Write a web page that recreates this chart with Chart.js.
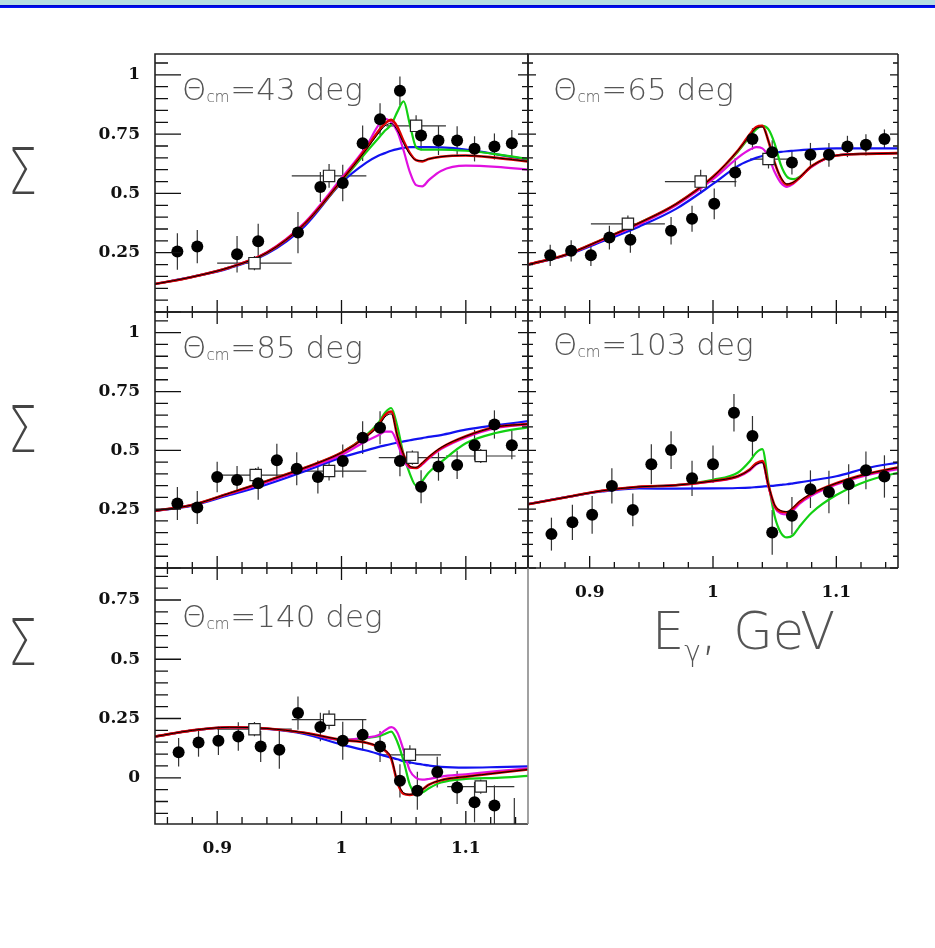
<!DOCTYPE html>
<html>
<head>
<meta charset="utf-8">
<script src="https://cdn.jsdelivr.net/npm/chart.js@4.4.1/dist/chart.umd.min.js"></script>
<style>
  body { margin: 0; background: #fff; }
  #page { position: relative; width: 935px; height: 948px; overflow: hidden; background: #fff; }
  #banner { position: absolute; left: 0; top: 0; width: 935px; height: 8px;
            background: linear-gradient(#b6dee2 0, #b6dee2 5px, #0000c8 5px, #0018ff 8px); }
  canvas { position: absolute; }
  .sigma { position: absolute; left: 8px; font: 200 64px "DejaVu Sans"; line-height: 64px;
           color: #444; transform: scaleX(0.72); transform-origin: left top; }
  #ebeam { position: absolute; left: 652px; top: 606px; font: 200 51px "DejaVu Sans";
           line-height: 51px; color: #555; white-space: nowrap; }
  #ebeam .sub { font-size: 28px; vertical-align: -12px; line-height: 0; }
</style>
</head>
<body>
<div id="page">
  <div id="banner"></div>
  <canvas id="c43"></canvas>
  <canvas id="c65"></canvas>
  <canvas id="c85"></canvas>
  <canvas id="c103"></canvas>
  <canvas id="c140"></canvas>
  <div class="sigma" style="top:140px">Σ</div>
  <div class="sigma" style="top:398px">Σ</div>
  <div class="sigma" style="top:611px">Σ</div>
  <div id="ebeam">E<span class="sub">γ</span>, GeV</div>
</div>
<script>
// photon energy grid for the model curves (GeV)
const curveE = [0.85, 0.88, 0.91, 0.94, 0.97, 1.0, 1.02, 1.03, 1.035, 1.04, 1.045, 1.05, 1.055, 1.06, 1.065, 1.07, 1.08, 1.1, 1.125, 1.15];

const angles = ['43', '65', '85', '103', '140'];

const xTickValues = [0.9, 1, 1.1];
const xTickText = ['0.9', '1', '1.1'];
const yTickValues = [0.25, 0.5, 0.75, 1];
const yTickText = ['0.25', '0.5', '0.75', '1'];
const yTickValues140 = [0, 0.25, 0.5, 0.75];
const yTickText140 = ['0', '0.25', '0.5', '0.75'];

// theta_cm = 43 deg
const e43 = [0.868, 0.884, 0.916, 0.933, 0.965, 0.983, 1.001, 1.017, 1.031, 1.047, 1.064, 1.078, 1.093, 1.107, 1.123, 1.137];
const sig43 = [0.255, 0.276, 0.244, 0.298, 0.335, 0.527, 0.544, 0.712, 0.813, 0.933, 0.744, 0.723, 0.723, 0.688, 0.698, 0.712];
const dsig43 = [0.077, 0.07, 0.077, 0.074, 0.087, 0.063, 0.077, 0.075, 0.067, 0.06, 0.063, 0.061, 0.06, 0.053, 0.055, 0.056];
const e43o = [0.93, 0.99, 1.06];
const sig43o = [0.206, 0.574, 0.785];
const de43o = [0.03, 0.03, 0.024];
const dsig43o = [0.03, 0.05, 0.045];
const blue43 = [0.118, 0.148, 0.185, 0.245, 0.36, 0.545, 0.63, 0.66, 0.67, 0.68, 0.687, 0.692, 0.695, 0.695, 0.695, 0.695, 0.694, 0.685, 0.665, 0.642];
const green43 = [0.118, 0.148, 0.188, 0.25, 0.37, 0.55, 0.675, 0.735, 0.765, 0.79, 0.845, 0.888, 0.79, 0.695, 0.685, 0.685, 0.685, 0.68, 0.665, 0.645];
const magenta43 = [0.118, 0.148, 0.188, 0.252, 0.375, 0.565, 0.70, 0.79, 0.815, 0.80, 0.76, 0.68, 0.59, 0.535, 0.53, 0.555, 0.595, 0.617, 0.612, 0.60];
const red43 = [0.118, 0.148, 0.188, 0.25, 0.37, 0.555, 0.69, 0.765, 0.795, 0.81, 0.78, 0.72, 0.67, 0.64, 0.635, 0.645, 0.655, 0.66, 0.65, 0.635];
const black43 = [0.118, 0.148, 0.188, 0.25, 0.37, 0.555, 0.685, 0.755, 0.785, 0.795, 0.765, 0.71, 0.665, 0.64, 0.638, 0.645, 0.655, 0.66, 0.65, 0.635];

// theta_cm = 65 deg
const e65 = [0.868, 0.885, 0.901, 0.916, 0.933, 0.966, 0.983, 1.001, 1.018, 1.032, 1.048, 1.064, 1.079, 1.094, 1.109, 1.124, 1.139];
const sig65 = [0.239, 0.258, 0.239, 0.314, 0.305, 0.343, 0.393, 0.456, 0.588, 0.730, 0.674, 0.630, 0.663, 0.663, 0.698, 0.705, 0.730];
const dsig65 = [0.045, 0.045, 0.045, 0.05, 0.055, 0.058, 0.055, 0.065, 0.06, 0.045, 0.05, 0.05, 0.05, 0.05, 0.045, 0.045, 0.04];
const e65o = [0.931, 0.99, 1.045];
const sig65o = [0.372, 0.55, 0.645];
const de65o = [0.03, 0.029, 0.015];
const dsig65o = [0.035, 0.05, 0.04];
const blue65 = [0.2, 0.237, 0.297, 0.36, 0.435, 0.54, 0.615, 0.64, 0.65, 0.658, 0.665, 0.67, 0.675, 0.678, 0.68, 0.682, 0.686, 0.69, 0.69, 0.69];
const green65 = [0.2, 0.24, 0.305, 0.375, 0.455, 0.57, 0.675, 0.74, 0.77, 0.785, 0.77, 0.71, 0.62, 0.57, 0.56, 0.57, 0.615, 0.66, 0.667, 0.67];
const magenta65 = [0.2, 0.24, 0.303, 0.37, 0.45, 0.56, 0.65, 0.685, 0.695, 0.69, 0.655, 0.59, 0.545, 0.528, 0.54, 0.565, 0.612, 0.66, 0.667, 0.67];
const red65 = [0.2, 0.24, 0.305, 0.375, 0.455, 0.57, 0.68, 0.75, 0.78, 0.785, 0.72, 0.63, 0.565, 0.537, 0.545, 0.565, 0.615, 0.66, 0.667, 0.67];
const black65 = [0.2, 0.24, 0.305, 0.375, 0.455, 0.57, 0.68, 0.745, 0.775, 0.78, 0.72, 0.63, 0.568, 0.54, 0.547, 0.567, 0.615, 0.66, 0.667, 0.67];

// theta_cm = 85 deg
const e85 = [0.868, 0.884, 0.900, 0.916, 0.933, 0.948, 0.964, 0.981, 1.001, 1.017, 1.031, 1.047, 1.064, 1.078, 1.093, 1.107, 1.123, 1.137];
const sig85 = [0.274, 0.257, 0.387, 0.374, 0.360, 0.458, 0.422, 0.387, 0.455, 0.554, 0.596, 0.455, 0.345, 0.431, 0.438, 0.522, 0.610, 0.522];
const dsig85 = [0.07, 0.07, 0.065, 0.06, 0.07, 0.07, 0.07, 0.07, 0.07, 0.07, 0.07, 0.065, 0.07, 0.06, 0.06, 0.065, 0.06, 0.06];
const e85o = [0.931, 0.99, 1.057, 1.112];
const sig85o = [0.395, 0.412, 0.469, 0.476];
const de85o = [0.03, 0.03, 0.027, 0.028];
const dsig85o = [0.03, 0.04, 0.03, 0.03];
const blue85 = [0.243, 0.265, 0.31, 0.355, 0.41, 0.47, 0.5, 0.515, 0.521, 0.527, 0.533, 0.538, 0.543, 0.548, 0.552, 0.557, 0.565, 0.588, 0.607, 0.624];
const green85 = [0.243, 0.268, 0.318, 0.37, 0.425, 0.49, 0.565, 0.62, 0.66, 0.68, 0.60, 0.48, 0.40, 0.35, 0.37, 0.405, 0.45, 0.53, 0.575, 0.598];
const magenta85 = [0.243, 0.268, 0.316, 0.365, 0.42, 0.48, 0.54, 0.565, 0.58, 0.58, 0.53, 0.46, 0.425, 0.425, 0.44, 0.465, 0.505, 0.555, 0.595, 0.61];
const red85 = [0.243, 0.268, 0.318, 0.37, 0.425, 0.49, 0.56, 0.61, 0.65, 0.665, 0.56, 0.48, 0.43, 0.425, 0.445, 0.47, 0.51, 0.56, 0.60, 0.612];
const black85 = [0.243, 0.268, 0.318, 0.37, 0.425, 0.49, 0.558, 0.605, 0.642, 0.655, 0.56, 0.482, 0.433, 0.428, 0.447, 0.472, 0.512, 0.56, 0.60, 0.612];

// theta_cm = 103 deg
const e103 = [0.869, 0.886, 0.902, 0.918, 0.935, 0.950, 0.966, 0.983, 1.000, 1.017, 1.032, 1.048, 1.064, 1.079, 1.094, 1.110, 1.124, 1.139];
const sig103 = [0.144, 0.194, 0.226, 0.349, 0.247, 0.441, 0.501, 0.381, 0.441, 0.660, 0.561, 0.151, 0.222, 0.335, 0.323, 0.356, 0.415, 0.389];
const dsig103 = [0.07, 0.075, 0.08, 0.075, 0.07, 0.085, 0.08, 0.075, 0.08, 0.08, 0.085, 0.095, 0.08, 0.08, 0.09, 0.085, 0.08, 0.09];
const blue103 = [0.271, 0.3, 0.325, 0.338, 0.337, 0.338, 0.34, 0.342, 0.344, 0.346, 0.348, 0.35, 0.353, 0.356, 0.36, 0.364, 0.372, 0.39, 0.425, 0.448];
const green103 = [0.271, 0.3, 0.328, 0.345, 0.352, 0.375, 0.405, 0.455, 0.49, 0.505, 0.36, 0.22, 0.15, 0.13, 0.14, 0.175, 0.235, 0.31, 0.37, 0.405];
const magenta103 = [0.271, 0.3, 0.328, 0.345, 0.352, 0.368, 0.387, 0.415, 0.44, 0.45, 0.345, 0.258, 0.232, 0.228, 0.245, 0.272, 0.308, 0.355, 0.395, 0.42];
const red103 = [0.271, 0.3, 0.328, 0.345, 0.352, 0.37, 0.39, 0.42, 0.445, 0.455, 0.35, 0.265, 0.24, 0.237, 0.255, 0.28, 0.315, 0.36, 0.40, 0.427];
const black103 = [0.271, 0.3, 0.328, 0.345, 0.352, 0.37, 0.39, 0.418, 0.44, 0.448, 0.35, 0.268, 0.244, 0.24, 0.258, 0.283, 0.317, 0.36, 0.40, 0.427];

// theta_cm = 140 deg
const e140 = [0.869, 0.885, 0.901, 0.917, 0.935, 0.950, 0.965, 0.983, 1.001, 1.017, 1.031, 1.047, 1.061, 1.077, 1.093, 1.107, 1.123, 1.139];
const sig140 = [0.108, 0.149, 0.156, 0.174, 0.132, 0.118, 0.273, 0.214, 0.156, 0.181, 0.132, -0.013, -0.055, 0.024, -0.041, -0.103, -0.117, -0.235];
const dsig140 = [0.06, 0.06, 0.06, 0.06, 0.065, 0.08, 0.07, 0.06, 0.08, 0.065, 0.065, 0.07, 0.08, 0.065, 0.07, 0.085, 0.085, 0.15];
const e140o = [0.93, 0.99, 1.055, 1.112];
const sig140o = [0.205, 0.245, 0.097, -0.037];
const de140o = [0.03, 0.03, 0.025, 0.027];
const dsig140o = [0.03, 0.04, 0.04, 0.03];
const blue140 = [0.174, 0.2, 0.213, 0.206, 0.185, 0.14, 0.115, 0.1, 0.092, 0.085, 0.078, 0.07, 0.065, 0.06, 0.056, 0.052, 0.046, 0.043, 0.045, 0.048];
const green140 = [0.174, 0.2, 0.213, 0.208, 0.19, 0.16, 0.168, 0.175, 0.185, 0.195, 0.15, 0.07, -0.03, -0.063, -0.062, -0.045, -0.02, -0.005, 0.0, 0.008];
const magenta140 = [0.174, 0.2, 0.213, 0.208, 0.19, 0.16, 0.17, 0.18, 0.2, 0.214, 0.19, 0.115, 0.03, 0.0, -0.008, -0.005, 0.005, 0.015, 0.028, 0.04];
const red140 = [0.174, 0.2, 0.213, 0.208, 0.19, 0.16, 0.148, 0.13, 0.115, 0.08, -0.02, -0.068, -0.072, -0.065, -0.05, -0.03, -0.01, 0.005, 0.02, 0.035];
const black140 = [0.174, 0.2, 0.213, 0.208, 0.19, 0.16, 0.148, 0.132, 0.117, 0.085, -0.015, -0.063, -0.07, -0.064, -0.05, -0.03, -0.01, 0.005, 0.02, 0.035];

const curveColors = ['#1212f0', '#12d012', '#e010e0', '#e00000', '#000000'];
const curveWidths = [2.2, 2.2, 2.2, 2.6, 1.0];

const panels = [
  { id: 'c43', angle: angles[0], rect: [155, 54, 528, 312], yMin: 0, yMax: 1.088,
    yTicks: yTickValues, yText: yTickText, yLab: true, xLab: false,
    tl: [26, 13], tr: [10, 6], tt: null, tb: [12, 6], label: [27, 46], frameRight: '#222',
    pts: [e43, sig43, dsig43], open: [e43o, sig43o, de43o, dsig43o],
    curves: [blue43, green43, magenta43, red43, black43] },
  { id: 'c65', angle: angles[1], rect: [528, 54, 898, 312], yMin: 0, yMax: 1.088,
    yTicks: yTickValues, yText: yTickText, yLab: false, xLab: false,
    tl: [8, 5], tr: [8, 5], tt: null, tb: [12, 6], label: [25, 46], frameRight: '#222',
    pts: [e65, sig65, dsig65], open: [e65o, sig65o, de65o, dsig65o],
    curves: [blue65, green65, magenta65, red65, black65] },
  { id: 'c85', angle: angles[2], rect: [155, 312, 528, 568], yMin: 0, yMax: 1.088,
    yTicks: yTickValues, yText: yTickText, yLab: true, xLab: false,
    tl: [26, 13], tr: [10, 6], tt: [12, 6], tb: [12, 6], label: [27, 46], frameRight: '#222',
    pts: [e85, sig85, dsig85], open: [e85o, sig85o, de85o, dsig85o],
    curves: [blue85, green85, magenta85, red85, black85] },
  { id: 'c103', angle: angles[3], rect: [528, 312, 898, 568], yMin: 0, yMax: 1.088,
    yTicks: yTickValues, yText: yTickText, yLab: false, xLab: true,
    tl: [8, 5], tr: [8, 5], tt: [12, 6], tb: [12, 6], label: [25, 43], frameRight: '#222',
    pts: [e103, sig103, dsig103], open: null,
    curves: [blue103, green103, magenta103, red103, black103] },
  { id: 'c140', angle: angles[4], rect: [155, 568, 528, 824], yMin: -0.195, yMax: 0.885,
    yTicks: yTickValues140, yText: yTickText140, yLab: true, xLab: true,
    tl: [26, 13], tr: null, tt: [12, 6], tb: [13, 7], label: [27, 59], frameRight: '#8a8a8a',
    pts: [e140, sig140, dsig140], open: [e140o, sig140o, de140o, dsig140o],
    curves: [blue140, green140, magenta140, red140, black140] }
];

// vertical (and horizontal) error bars, drawn under the markers
const errorBars = {
  id: 'errorBars',
  beforeDatasetsDraw(chart) {
    const { ctx, chartArea: a } = chart;
    const xs = chart.scales.x, ys = chart.scales.y;
    ctx.save();
    ctx.beginPath();
    ctx.rect(a.left, a.top, a.right - a.left, a.bottom - a.top);
    ctx.clip();
    ctx.strokeStyle = '#333';
    ctx.lineWidth = 1.2;
    chart.data.datasets.forEach(ds => {
      if (!ds.errY) return;
      ds.data.forEach((pt, i) => {
        const px = xs.getPixelForValue(pt.x), py = ys.getPixelForValue(pt.y);
        ctx.beginPath();
        ctx.moveTo(px, ys.getPixelForValue(pt.y - ds.errY[i]));
        ctx.lineTo(px, ys.getPixelForValue(pt.y + ds.errY[i]));
        if (ds.errX) {
          ctx.moveTo(xs.getPixelForValue(pt.x - ds.errX[i]), py);
          ctx.lineTo(xs.getPixelForValue(pt.x + ds.errX[i]), py);
        }
        ctx.stroke();
      });
    });
    ctx.restore();
  }
};

// frame, inward tick marks and the angle label
const panelDecor = {
  id: 'panelDecor',
  afterDraw(chart, args, o) {
    const { ctx, chartArea: a } = chart;
    const xs = chart.scales.x, ys = chart.scales.y;
    ctx.save();
    ctx.strokeStyle = '#111';
    ctx.lineWidth = 1.3;
    ctx.beginPath();
    for (let k = Math.ceil(ys.min * 20); k <= Math.floor(ys.max * 20); k++) {
      const y = ys.getPixelForValue(k / 20);
      const major = k % 5 === 0;
      if (o.tl) { ctx.moveTo(a.left, y); ctx.lineTo(a.left + o.tl[major ? 0 : 1], y); }
      if (o.tr) { ctx.moveTo(a.right, y); ctx.lineTo(a.right - o.tr[major ? 0 : 1], y); }
    }
    for (let k = 43; k <= 57; k++) {
      const x = xs.getPixelForValue(k / 50);
      const major = k % 5 === 0;
      if (o.tb) { ctx.moveTo(x, a.bottom); ctx.lineTo(x, a.bottom - o.tb[major ? 0 : 1]); }
      if (o.tt) { ctx.moveTo(x, a.top); ctx.lineTo(x, a.top + o.tt[major ? 0 : 1]); }
    }
    ctx.stroke();

    ctx.lineWidth = 1.6;
    ctx.strokeStyle = '#222';
    ctx.beginPath();
    ctx.moveTo(a.right, a.bottom);
    ctx.lineTo(a.left, a.bottom);
    ctx.lineTo(a.left, a.top);
    ctx.lineTo(a.right, a.top);
    ctx.stroke();
    ctx.strokeStyle = o.frameRight;
    ctx.beginPath();
    ctx.moveTo(a.right, a.top);
    ctx.lineTo(a.right, a.bottom);
    ctx.stroke();

    // Θ_cm = NN deg
    ctx.fillStyle = '#555';
    ctx.textBaseline = 'alphabetic';
    let x = a.left + o.label[0];
    const y = a.top + o.label[1];
    ctx.font = '200 31px "DejaVu Sans"';
    ctx.fillText('Θ', x, y);
    x += ctx.measureText('Θ').width;
    ctx.font = '200 15px "DejaVu Sans"';
    ctx.fillText('cm', x, y + 2);
    x += ctx.measureText('cm').width + 1;
    ctx.font = '200 31px "DejaVu Sans"';
    ctx.fillText('=' + o.angle + ' deg', x, y);
    ctx.restore();
  }
};

const tickFont = { family: '"DejaVu Serif"', size: 17, weight: 'bold' };

function makePanel(p) {
  const [l, t, r, b] = p.rect;
  // room around the plot area; the left column's canvas starts at the page edge
  const padL = p.yLab ? l : 20;
  const padR = 20, padT = 30;
  const padB = p.xLab ? 50 : 30;
  const canvas = document.getElementById(p.id);
  canvas.width = r - l + padL + padR;
  canvas.height = b - t + padT + padB;
  canvas.style.left = (l - padL) + 'px';
  canvas.style.top = (t - padT) + 'px';

  const datasets = [];
  p.curves.forEach((ys, c) => {
    datasets.push({
      type: 'line',
      data: curveE.map((x, i) => ({ x, y: ys[i] })),
      borderColor: curveColors[c],
      borderWidth: curveWidths[c],
      pointRadius: 0,
      cubicInterpolationMode: 'monotone',
      fill: false,
      clip: 0,
      order: 6 - c
    });
  });
  if (p.open) {
    const [e, s, de, ds] = p.open;
    datasets.push({
      type: 'scatter',
      data: e.map((x, i) => ({ x, y: s[i] })),
      errX: de, errY: ds,
      pointStyle: 'rect', pointRadius: 8,
      backgroundColor: '#fff', borderColor: '#222', borderWidth: 1.2,
      clip: 0, order: 1
    });
  }
  const [e, s, ds] = p.pts;
  datasets.push({
    type: 'scatter',
    data: e.map((x, i) => ({ x, y: s[i] })),
    errY: ds,
    pointStyle: 'circle', pointRadius: 6,
    backgroundColor: '#000', borderWidth: 0,
    clip: 0, order: 0
  });

  new Chart(canvas, {
    type: 'scatter',
    data: { datasets },
    options: {
      responsive: false,
      animation: false,
      events: [],
      layout: { padding: { left: 0, right: padR, top: padT, bottom: 0 } },
      plugins: {
        legend: { display: false },
        tooltip: { enabled: false },
        panelDecor: { tl: p.tl, tr: p.tr, tt: p.tt, tb: p.tb, label: p.label, angle: p.angle, frameRight: p.frameRight }
      },
      scales: {
        x: {
          type: 'linear', min: 0.85, max: 1.15, display: p.xLab,
          grid: { display: false, drawTicks: false }, border: { display: false },
          ticks: { font: tickFont, color: '#111', padding: 14, autoSkip: false, maxRotation: 0,
                   callback: (v, i) => xTickText[i] },
          afterBuildTicks: s => { s.ticks = xTickValues.map(v => ({ value: v })); },
          afterFit: s => { s.height = padB; }
        },
        y: {
          type: 'linear', min: p.yMin, max: p.yMax, display: p.yLab,
          grid: { display: false, drawTicks: false }, border: { display: false },
          ticks: { font: tickFont, color: '#111', padding: 15, autoSkip: false,
                   callback: (v, i) => p.yText[i] },
          afterBuildTicks: s => { s.ticks = p.yTicks.map(v => ({ value: v })); },
          afterFit: s => { s.width = padL; }
        }
      }
    },
    plugins: [errorBars, panelDecor]
  });
}

panels.forEach(makePanel);
</script>
</body>
</html>
